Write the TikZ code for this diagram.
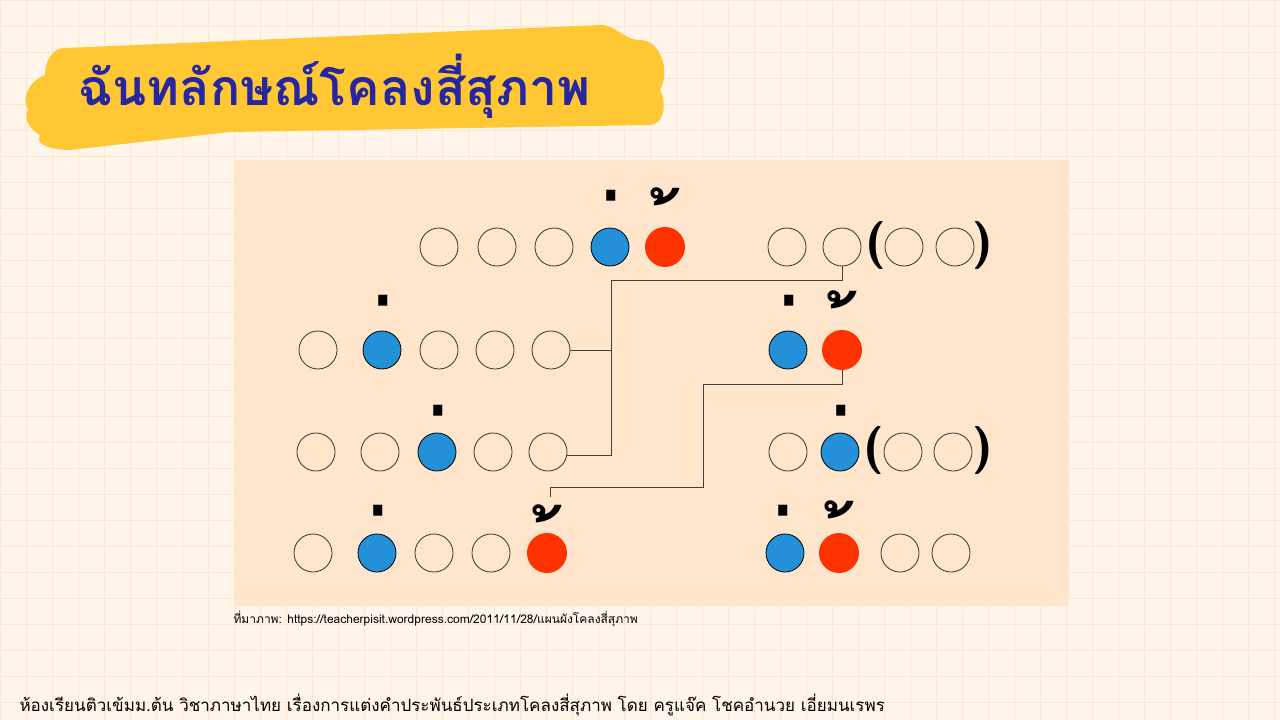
\documentclass[tikz,border=0pt]{standalone}
\usepackage{fontspec}
\newfontfamily\thaifont[Script=Thai]{Loma}
\begin{document}
\begin{tikzpicture}[x=1pt,y=-1pt,
  slot/.style={circle,draw=black!80,line width=0.8pt,minimum size=38pt,inner sep=0pt},
  ek/.style={slot,fill=cyan!70!blue!90,draw=black},
  tho/.style={circle,fill=orange!40!red,draw=none,minimum size=40pt,inner sep=0pt},
  mk/.style={font=\thaifont\fontsize{80}{80}\selectfont\bfseries,anchor=base,inner sep=0pt},
  br/.style={font=\sffamily\bfseries\fontsize{48}{48}\selectfont},
  ln/.style={draw=black!75,line width=0.9pt}]
\useasboundingbox (0,0) rectangle (1280,720);
\fill[orange!8] (0,0) rectangle (1280,720);
\foreach \i in {0,26,...,1280} \draw[orange!20,line width=0.6pt] (\i,0) -- (\i,720);
\foreach \i in {0,26,...,720} \draw[orange!20,line width=0.6pt] (0,\i) -- (1280,\i);
% title blob
\fill[orange!55!yellow!80] (65,48) to[out=180,in=90] (45,75) to[out=200,in=120] (28,110) to[out=240,in=150] (40,135)
  to[out=240,in=180] (70,150) -- (230,132) -- (650,125) to[out=0,in=-60] (660,90) to[out=60,in=0] (640,40) to[out=180,in=0] (600,25) -- (300,38) -- cycle;
\node[anchor=west,font=\thaifont\fontsize{50}{50}\selectfont\bfseries,text=blue!55!black!85] (title) at (75,86) {ฉันทลักษณ์โคลงสี่สุภาพ};
% panel
\fill[orange!20] (234,160) rectangle (1069,606);
% row 1
\node[slot] (a1) at (439,247) {}; \node[slot] (a2) at (497,247) {}; \node[slot] (a3) at (554,247) {};
\node[ek] (a4) at (610,247) {}; \node[tho] (a5) at (665,247) {};
\node[slot] (b1) at (787,247) {}; \node[slot] (b2) at (842,247) {};
\node[br] (bl1) at (876,245) {(}; \node[slot] (b3) at (904,247) {}; \node[slot] (b4) at (955,247) {}; \node[br] (br1) at (983,245) {)};
% row 2
\node[slot] (c1) at (318,350) {}; \node[ek] (c2) at (382,350) {}; \node[slot] (c3) at (439,350) {};
\node[slot] (c4) at (495,350) {}; \node[slot] (c5) at (551,350) {};
\node[ek] (d1) at (788,350) {}; \node[tho] (d2) at (842,350) {};
% row 3
\node[slot] (e1) at (316,452) {}; \node[slot] (e2) at (380,452) {}; \node[ek] (e3) at (437,452) {};
\node[slot] (e4) at (493,452) {}; \node[slot] (e5) at (548,452) {};
\node[slot] (f1) at (788,452) {}; \node[ek] (f2) at (840,452) {};
\node[br] (bl2) at (874,450) {(}; \node[slot] (f3) at (903,452) {}; \node[slot] (f4) at (953,452) {}; \node[br] (br2) at (983,450) {)};
% row 4
\node[slot] (g1) at (313,553) {}; \node[ek] (g2) at (377,553) {}; \node[slot] (g3) at (434,553) {};
\node[slot] (g4) at (491,553) {}; \node[tho] (g5) at (547,553) {};
\node[ek] (h1) at (785,553) {}; \node[tho] (h2) at (839,553) {}; \node[slot] (h3) at (900,553) {}; \node[slot] (h4) at (951,553) {};
% marks
\def\dy{77}
\foreach \n/\x/\y in {m1/610/195,m2/382/300,m3/788/300,m4/437/410,m5/840/410,m6/377/510,m7/782/510}
  \node[mk] (\n) at (\x+11,\y+\dy) {\char"0E48};
\foreach \n/\x/\y in {t1/665/195,t2/842/298,t3/547/512,t4/839/508}
  \node[mk] (\n) at (\x+12,\y+\dy) {\char"0E49};
% connectors
\draw[ln] (b2.south) -- (842,280) -- (611,280) -- (611,455) -- (e5.east |- 0,455);
\draw[ln] (c5.east) -- (611,350);
\coordinate (k1) at (550,497);
\draw[ln] (d2.south) -- (842,384) -- (703,384) -- (703,487) -- (550,487) -- (k1);
% texts
\node[anchor=west,font=\thaifont\fontsize{12}{12}\selectfont] (src) at (230,619) {ที่มาภาพ: https://teacherpisit.wordpress.com/2011/11/28/แผนผังโคลงสี่สุภาพ};
\node[anchor=west,font=\thaifont\fontsize{17}{17}\selectfont] (foot) at (16,705) {ห้องเรียนติวเข้มม.ต้น วิชาภาษาไทย เรื่องการแต่งคำประพันธ์ประเภทโคลงสี่สุภาพ โดย ครูแจ๊ค โชคอำนวย เอี่ยมนเรพร};
\end{tikzpicture}
\end{document}
